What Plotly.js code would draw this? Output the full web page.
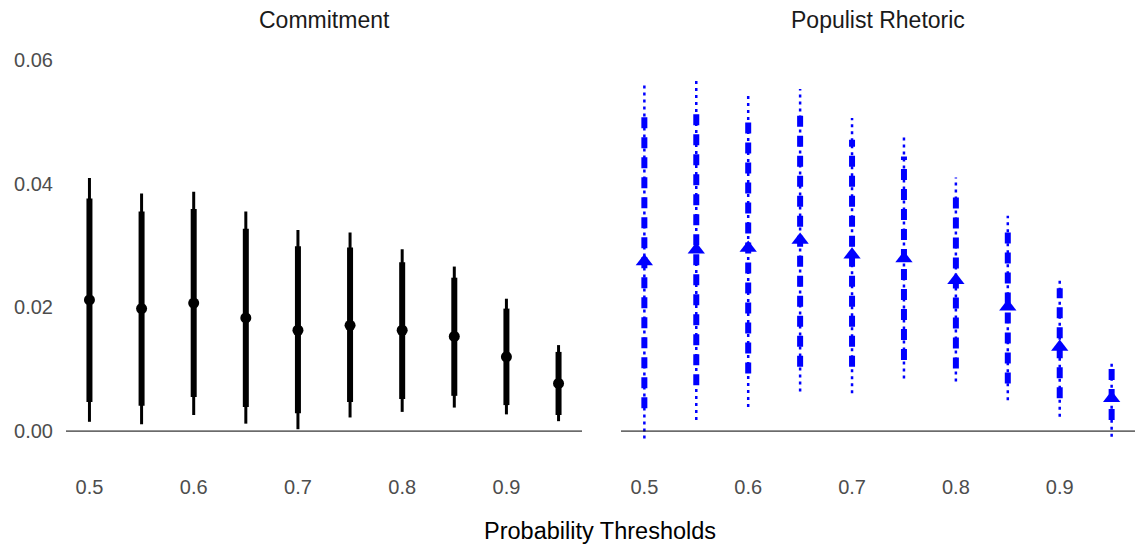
<!DOCTYPE html>
<html>
<head>
<meta charset="utf-8">
<script src="https://cdn.plot.ly/plotly-3.0.1.min.js"></script>
<style>html,body{margin:0;padding:0;background:#fff;}#chart{width:1135px;height:550px;}</style>
</head>
<body>
<div id="chart"></div>
<script>
// Probability thresholds (shared x categories)
const thresholds = [0.5, 0.55, 0.6, 0.65, 0.7, 0.75, 0.8, 0.85, 0.9, 0.95];
const xTicks = [0.5, 0.6, 0.7, 0.8, 0.9];
const yTicks = [0, 0.02, 0.04, 0.06];
const yTickLabels = ["0.00", "0.02", "0.04", "0.06"];
const panelTitles = ["Commitment", "Populist Rhetoric"];
const xTitle = "Probability Thresholds";

// Commitment: estimate, inner (thick) interval, outer (thin) interval
const commitEst     = [0.0212, 0.0198, 0.0207, 0.0183, 0.0163, 0.0171, 0.0163, 0.0153, 0.0120, 0.0077];
const commitInnerLo = [0.0047, 0.0041, 0.0055, 0.0039, 0.0029, 0.0047, 0.0052, 0.0057, 0.0042, 0.0026];
const commitInnerHi = [0.0376, 0.0355, 0.0359, 0.0327, 0.0299, 0.0297, 0.0273, 0.0248, 0.0198, 0.0128];
const commitOuterLo = [0.0015, 0.0011, 0.0026, 0.0012, 0.0003, 0.0022, 0.0031, 0.0038, 0.0027, 0.0016];
const commitOuterHi = [0.0409, 0.0384, 0.0387, 0.0355, 0.0325, 0.0321, 0.0294, 0.0266, 0.0214, 0.0139];

// Populist Rhetoric
const popEst     = [0.0274, 0.0293, 0.0296, 0.0309, 0.0285, 0.0279, 0.0244, 0.0201, 0.0136, 0.0053];
const popInnerLo = [0.0037, 0.0074, 0.0093, 0.0104, 0.0104, 0.0115, 0.0101, 0.0077, 0.0053, 0.0018];
const popInnerHi = [0.0516, 0.0522, 0.0506, 0.0514, 0.0471, 0.0444, 0.0382, 0.0325, 0.0231, 0.0101];
const popOuterLo = [-0.0012, 0.0018, 0.0039, 0.0064, 0.0061, 0.0085, 0.0080, 0.0050, 0.0023, -0.0009];
const popOuterHi = [0.0561, 0.0567, 0.0548, 0.0553, 0.0506, 0.0477, 0.0410, 0.0348, 0.0249, 0.0114];

function segs(xs, lo, hi) {
  const x = [], y = [];
  xs.forEach((v, i) => { x.push(v, v, null); y.push(lo[i], hi[i], null); });
  return {x, y};
}

const FONT = "Liberation Sans, Arial, sans-serif";
const traces = [];
let s = segs(thresholds, commitOuterLo, commitOuterHi);
traces.push({type:'scatter', mode:'lines', x:s.x, y:s.y, xaxis:'x', yaxis:'y',
  line:{color:'#000', width:3}, hoverinfo:'skip', showlegend:false});
s = segs(thresholds, commitInnerLo, commitInnerHi);
traces.push({type:'scatter', mode:'lines', x:s.x, y:s.y, xaxis:'x', yaxis:'y',
  line:{color:'#000', width:6}, hoverinfo:'skip', showlegend:false});
traces.push({type:'scatter', mode:'markers', x:thresholds, y:commitEst, xaxis:'x', yaxis:'y',
  marker:{color:'#000', size:11, symbol:'circle'}, showlegend:false});

s = segs(thresholds, popOuterLo, popOuterHi);
traces.push({type:'scatter', mode:'lines', x:s.x, y:s.y, xaxis:'x2', yaxis:'y',
  line:{color:'#0000FF', width:2.5, dash:'3px,4px'}, hoverinfo:'skip', showlegend:false});
s = segs(thresholds, popInnerLo, popInnerHi);
traces.push({type:'scatter', mode:'lines', x:s.x, y:s.y, xaxis:'x2', yaxis:'y',
  line:{color:'#0000FF', width:6, dash:'11px,9px'}, hoverinfo:'skip', showlegend:false});
traces.push({type:'scatter', mode:'markers', x:thresholds, y:popEst, xaxis:'x2', yaxis:'y',
  marker:{color:'#0000FF', size:15, symbol:'triangle-up'}, showlegend:false});

const W = 1135, H = 550;
const xr = [0.4775, 0.9725];
const xaxBase = {range:xr, tickvals:xTicks, ticktext:xTicks.map(String), showgrid:false, zeroline:false,
  showline:false, ticks:'', ticklabelstandoff:11, tickfont:{family:FONT, size:20, color:'#4D4D4D'}, anchor:'y', fixedrange:true};

const layout = {
  width:W, height:H, margin:{l:0, r:0, t:0, b:0},
  paper_bgcolor:'#fff', plot_bgcolor:'#fff', showlegend:false,
  xaxis: Object.assign({}, xaxBase, {domain:[66/W, 582/W]}),
  xaxis2: Object.assign({}, xaxBase, {domain:[621/W, 1]}),
  yaxis: {range:[-0.0050, 0.0615], domain:[(H-462)/H, (H-50.7)/H], tickvals:yTicks, ticktext:yTickLabels,
    showgrid:false, zeroline:false, showline:false, ticks:'', ticklabelstandoff:12,
    tickfont:{family:FONT, size:20, color:'#4D4D4D'}, fixedrange:true},
  shapes: [
    {type:'line', xref:'x domain', yref:'y', x0:0, x1:1, y0:0, y1:0, line:{color:'#000', width:1}},
    {type:'line', xref:'x2 domain', yref:'y', x0:0, x1:1, y0:0, y1:0, line:{color:'#000', width:1}}
  ],
  annotations: [
    {text:panelTitles[0], xref:'x domain', yref:'paper', x:0.5, y:1-20/H, xanchor:'center', yanchor:'middle', showarrow:false,
      font:{family:FONT, size:23, color:'#1A1A1A'}},
    {text:panelTitles[1], xref:'x2 domain', yref:'paper', x:0.5, y:1-20/H, xanchor:'center', yanchor:'middle', showarrow:false,
      font:{family:FONT, size:23, color:'#1A1A1A'}},
    {text:xTitle, xref:'paper', yref:'paper', x:600/W, y:1-531/H, xanchor:'center', yanchor:'middle', showarrow:false,
      font:{family:FONT, size:23.5, color:'#000'}}
  ]
};

Plotly.newPlot('chart', traces, layout, {displayModeBar:false, staticPlot:true});
</script>
</body>
</html>
